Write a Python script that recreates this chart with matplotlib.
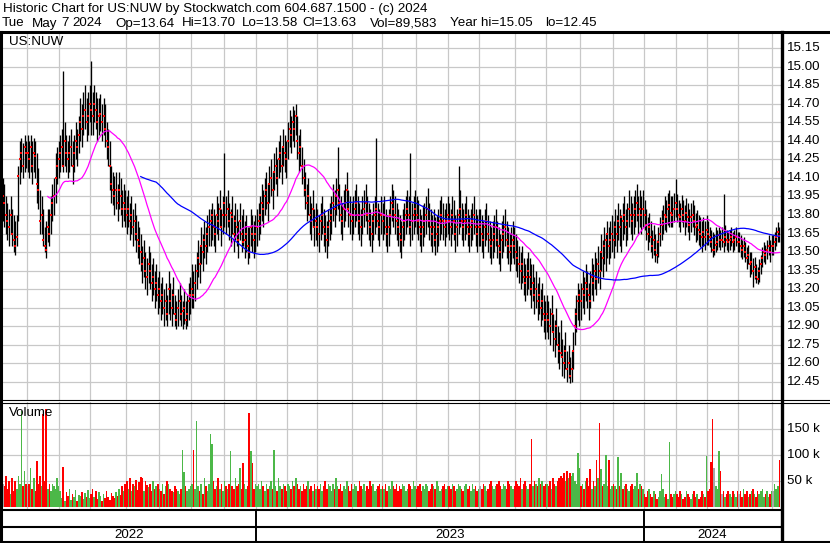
import numpy as np
import pandas as pd
import matplotlib
matplotlib.use('Agg')
import matplotlib.pyplot as plt
from matplotlib.lines import Line2D

plt.rcParams['font.family'] = ['Liberation Sans', 'DejaVu Sans']

# ---- data, one line per month ----
holidays = ['2022-05-30', '2022-06-20', '2022-07-04', '2022-09-05', '2022-11-24', '2022-12-26',
            '2023-01-02', '2023-01-16', '2023-02-20', '2023-04-07', '2023-05-29', '2023-06-19',
            '2023-07-04', '2023-09-04', '2023-11-23', '2023-12-25',
            '2024-01-01', '2024-01-15', '2024-02-19', '2024-03-29']

close = [
    13.95, 13.90, 13.80, 13.75, 13.70, 13.80, 13.65, 13.60, 13.55, 13.62, 14.12, 14.25, 14.30, 14.20, 14.35, 14.30,
    14.30, 14.25, 14.35, 14.20, 14.30, 14.28, 14.05, 14.00, 13.75, 13.80, 13.60, 13.55, 13.52, 13.70, 13.65, 13.80, 13.90, 13.95, 14.10, 14.20, 14.25,
    14.30, 14.35, 14.20, 14.40, 14.30, 14.25, 14.30, 14.35, 14.20, 14.30, 14.40, 14.35, 14.45, 14.55, 14.50, 14.60, 14.65, 14.55, 14.60, 14.70,
    14.65, 14.60, 14.70, 14.65, 14.55, 14.60, 14.62, 14.55, 14.60, 14.50, 14.40, 14.35, 14.20, 14.05, 14.00, 13.95, 14.00, 13.90, 14.00, 13.95, 13.85, 13.90, 13.85,
    13.80, 13.85, 13.75, 13.80, 13.70, 13.75, 13.65, 13.60, 13.55, 13.50, 13.40, 13.45, 13.35, 13.30, 13.40, 13.35, 13.25, 13.30, 13.20, 13.25, 13.15,
    13.20, 13.10, 13.15, 13.05, 13.10, 13.00, 13.20, 13.10, 13.05, 13.15, 13.00, 12.95, 13.05, 13.10, 13.00, 13.02, 13.05, 12.95, 13.00, 13.10, 13.15,
    13.20, 13.15, 13.25, 13.35, 13.45, 13.40, 13.55, 13.50, 13.60, 13.55, 13.65, 13.70, 13.75, 13.80, 13.70, 13.65, 13.80, 13.75, 13.85, 13.70, 13.80,
    13.90, 13.80, 13.85, 13.75, 13.82, 13.78, 13.65, 13.75, 13.70, 13.60, 13.75, 13.65, 13.58, 13.60, 13.65, 13.55, 13.50, 13.70, 13.65, 13.60, 13.65,
    13.70, 13.75, 13.80, 13.90, 13.85, 13.95, 14.00, 13.90, 14.05, 14.10, 14.00, 14.15, 14.20, 14.10, 14.25, 14.30, 14.20, 14.35, 14.30, 14.25,
    14.40, 14.50, 14.45, 14.55, 14.50, 14.60, 14.40, 14.30, 14.35, 14.20, 14.10, 14.00, 13.90, 13.95, 13.80, 13.75, 13.85, 13.70, 13.75,
    13.70, 13.65, 13.75, 13.80, 13.70, 13.65, 13.60, 13.70, 13.75, 13.80, 13.90, 13.85, 13.95, 14.00, 13.90, 13.80, 13.75, 13.85, 13.90, 14.00, 13.85, 13.80, 13.75,
    13.80, 13.85, 13.90, 13.80, 13.75, 13.70, 13.80, 13.85, 13.90, 13.80, 13.75, 13.70, 13.65, 13.75, 13.80, 13.85, 13.75, 13.70, 13.80,
    13.75, 13.80, 13.70, 13.65, 13.70, 13.80, 13.90, 13.85, 13.80, 13.75, 13.70, 13.65, 13.60, 13.70, 13.75, 13.80, 13.85, 13.80, 13.70, 13.75, 13.80, 13.85,
    13.80, 13.75, 13.70, 13.65, 13.70, 13.75, 13.80, 13.85, 13.75, 13.70, 13.65, 13.70, 13.60, 13.65, 13.70, 13.75, 13.80, 13.75, 13.70, 13.75, 13.80,
    13.75, 13.70, 13.80, 13.75, 13.65, 13.70, 13.80, 13.85, 13.75, 13.70, 13.75, 13.80, 13.70, 13.65, 13.70, 13.75, 13.80, 13.70, 13.65, 13.70,
    13.70, 13.65, 13.60, 13.70, 13.75, 13.65, 13.60, 13.55, 13.60, 13.65, 13.70, 13.60, 13.55, 13.50, 13.60, 13.65, 13.70, 13.60, 13.55, 13.50, 13.55, 13.60, 13.55,
    13.50, 13.45, 13.40, 13.35, 13.40, 13.30, 13.25, 13.30, 13.35, 13.30, 13.20, 13.25, 13.15, 13.20, 13.10, 13.15, 13.05, 13.10, 13.00, 12.95,
    13.00, 12.95, 12.90, 13.00, 12.85, 12.80, 12.90, 12.75, 12.70, 12.68, 12.65, 12.60, 12.70, 12.55, 12.60, 12.50, 12.55, 12.70, 12.90, 13.00, 13.10, 13.15,
    13.10, 13.20, 13.15, 13.25, 13.20, 13.15, 13.10, 13.30, 13.25, 13.35, 13.28, 13.40, 13.35, 13.50, 13.45, 13.55, 13.60, 13.65, 13.55, 13.60, 13.65,
    13.60, 13.70, 13.65, 13.75, 13.70, 13.78, 13.75, 13.80, 13.70, 13.75, 13.85, 13.80, 13.75, 13.80, 13.85, 13.90, 13.80, 13.85, 13.80, 13.85,
    13.80, 13.72, 13.65, 13.70, 13.62, 13.55, 13.60, 13.52, 13.48, 13.58, 13.65, 13.72, 13.75, 13.80, 13.78, 13.85, 13.88, 13.82, 13.80, 13.85, 13.90,
    13.85, 13.80, 13.78, 13.85, 13.80, 13.75, 13.82, 13.78, 13.72, 13.78, 13.80, 13.75, 13.70, 13.72, 13.68, 13.65, 13.62, 13.66, 13.62, 13.68,
    13.65, 13.62, 13.58, 13.52, 13.52, 13.56, 13.58, 13.64, 13.60, 13.60, 13.58, 13.62, 13.60, 13.58, 13.60, 13.62, 13.58, 13.60, 13.62, 13.58,
    13.58, 13.55, 13.52, 13.55, 13.50, 13.45, 13.48, 13.40, 13.42, 13.35, 13.38, 13.30, 13.28, 13.35, 13.40, 13.45, 13.50, 13.48, 13.52, 13.55, 13.50, 13.55,
    13.55, 13.58, 13.62, 13.66, 13.63,
]

high = [
    14.10, 14.05, 13.95, 13.90, 13.85, 13.95, 13.85, 13.80, 13.75, 13.80, 14.20, 14.40, 14.42, 14.38, 14.45, 14.40,
    14.45, 14.40, 14.45, 14.40, 14.42, 14.40, 14.30, 14.18, 14.00, 13.95, 13.85, 13.70, 13.75, 13.85, 13.85, 13.95, 14.05, 14.10, 14.30, 14.35, 14.40,
    14.45, 14.50, 14.97, 14.55, 14.45, 14.40, 14.45, 14.50, 14.40, 14.45, 14.55, 14.50, 14.60, 14.75, 14.70, 14.80, 14.85, 14.75, 14.80, 14.85,
    15.05, 14.80, 14.85, 14.80, 14.75, 14.75, 14.78, 14.70, 14.75, 14.70, 14.55, 14.50, 14.40, 14.20, 14.15, 14.12, 14.15, 14.05, 14.15, 14.10, 14.00, 14.05, 14.00,
    13.95, 14.00, 13.90, 13.95, 13.85, 13.90, 13.80, 13.75, 13.70, 13.65, 13.55, 13.60, 13.50, 13.45, 13.55, 13.50, 13.40, 13.45, 13.35, 13.40, 13.30,
    13.35, 13.25, 13.30, 13.20, 13.25, 13.15, 13.35, 13.25, 13.20, 13.30, 13.15, 13.10, 13.20, 13.25, 13.15, 13.10, 13.20, 13.10, 13.15, 13.25, 13.30,
    13.40, 13.35, 13.40, 13.50, 13.60, 13.55, 13.70, 13.65, 13.75, 13.70, 13.80, 13.85, 13.85, 13.90, 13.85, 13.80, 13.95, 13.90, 14.00, 13.85, 13.95,
    14.30, 13.95, 14.00, 13.90, 13.85, 13.95, 13.80, 13.90, 13.85, 13.75, 13.90, 13.80, 13.85, 13.75, 13.80, 13.70, 13.70, 13.85, 13.80, 13.75, 13.80,
    13.85, 13.90, 13.95, 14.05, 14.00, 14.10, 14.15, 14.05, 14.20, 14.25, 14.15, 14.30, 14.35, 14.25, 14.40, 14.45, 14.35, 14.50, 14.45, 14.40,
    14.55, 14.65, 14.60, 14.68, 14.65, 14.70, 14.60, 14.45, 14.50, 14.35, 14.25, 14.15, 14.05, 14.10, 13.95, 13.90, 14.00, 13.85, 13.90,
    13.85, 13.80, 13.90, 13.95, 13.85, 13.80, 13.75, 13.85, 13.90, 13.95, 14.05, 14.00, 14.10, 14.35, 14.05, 13.95, 13.90, 14.00, 14.05, 14.15, 14.00, 13.95, 13.90,
    13.95, 14.00, 14.05, 13.95, 13.90, 13.85, 13.95, 14.00, 14.05, 13.95, 13.90, 13.85, 13.80, 13.90, 13.95, 14.42, 13.90, 13.85, 13.95,
    13.90, 13.95, 13.85, 13.80, 13.85, 13.95, 14.05, 14.00, 13.95, 13.90, 13.85, 13.80, 13.75, 13.85, 13.90, 13.95, 14.00, 13.95, 14.30, 13.90, 13.95, 14.00,
    13.95, 13.92, 13.85, 13.80, 13.88, 13.90, 13.95, 14.02, 13.90, 13.85, 13.80, 13.85, 13.78, 13.80, 13.85, 13.92, 13.95, 13.90, 13.85, 13.90, 13.95,
    13.90, 13.85, 13.95, 13.92, 13.80, 13.85, 14.20, 14.00, 13.90, 13.85, 13.90, 13.95, 13.85, 13.80, 13.85, 13.90, 13.95, 13.85, 13.80, 13.85,
    13.85, 13.80, 13.75, 13.85, 13.90, 13.80, 13.75, 13.70, 13.75, 13.80, 13.85, 13.75, 13.70, 13.65, 13.75, 13.80, 13.85, 13.75, 13.70, 13.65, 13.70, 13.75, 13.70,
    13.65, 13.60, 13.55, 13.50, 13.55, 13.45, 13.40, 13.45, 13.50, 13.45, 13.40, 13.40, 13.30, 13.35, 13.25, 13.30, 13.20, 13.25, 13.15, 13.10,
    13.15, 13.10, 13.05, 13.15, 13.00, 12.95, 13.05, 12.90, 12.85, 12.95, 12.80, 12.75, 12.85, 12.70, 12.75, 12.65, 12.70, 12.85, 13.05, 13.15, 13.25, 13.20,
    13.25, 13.35, 13.30, 13.40, 13.35, 13.25, 13.35, 13.45, 13.40, 13.50, 13.45, 13.55, 13.50, 13.65, 13.60, 13.70, 13.65, 13.75, 13.70, 13.75, 13.80,
    13.75, 13.85, 13.80, 13.90, 13.85, 13.80, 13.90, 13.95, 13.85, 13.90, 14.00, 13.95, 13.90, 13.95, 14.00, 14.05, 13.95, 14.00, 13.95, 14.00,
    13.92, 13.85, 13.78, 13.82, 13.75, 13.68, 13.72, 13.65, 13.60, 13.70, 13.78, 13.84, 13.88, 13.95, 13.92, 13.98, 14.00, 13.95, 13.95, 13.98, 14.09,
    13.97, 13.92, 13.90, 13.96, 13.92, 13.88, 13.94, 13.90, 13.85, 13.90, 13.92, 13.88, 13.82, 13.84, 13.80, 13.78, 13.75, 13.78, 13.75, 13.80,
    13.75, 13.70, 13.68, 13.66, 13.65, 13.70, 13.68, 13.70, 13.68, 13.70, 13.97, 13.72, 13.68, 13.66, 13.68, 13.70, 13.66, 13.68, 13.70, 13.66,
    13.66, 13.64, 13.60, 13.62, 13.58, 13.54, 13.56, 13.50, 13.50, 13.45, 13.46, 13.40, 13.38, 13.44, 13.48, 13.54, 13.58, 13.56, 13.60, 13.64, 13.60, 13.64,
    13.64, 13.66, 13.70, 13.74, 13.70,
]

low = [
    13.75, 13.70, 13.65, 13.60, 13.55, 13.65, 13.55, 13.50, 13.48, 13.55, 13.75, 14.05, 14.15, 14.10, 14.15, 14.18,
    14.15, 14.10, 14.15, 14.05, 14.15, 14.10, 13.90, 13.85, 13.65, 13.65, 13.55, 13.50, 13.45, 13.58, 13.55, 13.65, 13.75, 13.80, 13.90, 14.05, 14.10,
    14.15, 14.20, 14.15, 14.20, 14.15, 14.10, 14.15, 14.20, 14.05, 14.15, 14.25, 14.20, 14.30, 14.40, 14.35, 14.45, 14.50, 14.40, 14.45, 14.55,
    14.45, 14.45, 14.55, 14.50, 14.40, 14.45, 14.48, 14.40, 14.45, 14.35, 14.25, 14.20, 14.00, 13.90, 13.88, 13.80, 13.85, 13.75, 13.85, 13.80, 13.70, 13.75, 13.70,
    13.65, 13.70, 13.60, 13.65, 13.55, 13.60, 13.50, 13.45, 13.40, 13.35, 13.25, 13.30, 13.20, 13.15, 13.25, 13.20, 13.10, 13.15, 13.05, 13.10, 13.00,
    13.05, 12.95, 13.00, 12.90, 12.95, 12.90, 13.00, 12.95, 12.90, 13.00, 12.90, 12.88, 12.90, 12.95, 12.90, 12.88, 12.92, 12.88, 12.90, 12.95, 13.00,
    13.05, 13.05, 13.10, 13.20, 13.30, 13.25, 13.40, 13.35, 13.45, 13.40, 13.50, 13.55, 13.55, 13.60, 13.55, 13.50, 13.65, 13.60, 13.70, 13.55, 13.65,
    13.70, 13.65, 13.70, 13.60, 13.55, 13.65, 13.50, 13.60, 13.55, 13.45, 13.60, 13.50, 13.55, 13.45, 13.50, 13.40, 13.45, 13.55, 13.50, 13.45, 13.50,
    13.55, 13.60, 13.65, 13.75, 13.70, 13.80, 13.85, 13.75, 13.90, 13.95, 13.85, 14.00, 14.05, 13.95, 14.10, 14.15, 14.05, 14.20, 14.15, 14.10,
    14.25, 14.35, 14.30, 14.40, 14.35, 14.45, 14.25, 14.15, 14.20, 14.05, 13.95, 13.85, 13.75, 13.80, 13.65, 13.60, 13.70, 13.55, 13.60,
    13.55, 13.50, 13.60, 13.65, 13.55, 13.50, 13.45, 13.55, 13.60, 13.65, 13.75, 13.70, 13.80, 13.85, 13.75, 13.65, 13.60, 13.70, 13.75, 13.85, 13.70, 13.65, 13.60,
    13.65, 13.70, 13.75, 13.65, 13.60, 13.55, 13.65, 13.70, 13.75, 13.65, 13.60, 13.55, 13.50, 13.60, 13.65, 13.70, 13.60, 13.55, 13.65,
    13.60, 13.65, 13.55, 13.50, 13.55, 13.65, 13.75, 13.70, 13.65, 13.60, 13.55, 13.50, 13.45, 13.55, 13.60, 13.65, 13.70, 13.65, 13.55, 13.60, 13.65, 13.70,
    13.65, 13.60, 13.55, 13.50, 13.55, 13.62, 13.65, 13.70, 13.60, 13.55, 13.50, 13.55, 13.48, 13.50, 13.55, 13.60, 13.65, 13.60, 13.55, 13.62, 13.65,
    13.60, 13.55, 13.65, 13.60, 13.50, 13.55, 13.65, 13.70, 13.60, 13.55, 13.60, 13.65, 13.55, 13.50, 13.55, 13.60, 13.65, 13.55, 13.50, 13.55,
    13.55, 13.50, 13.45, 13.55, 13.60, 13.50, 13.45, 13.40, 13.45, 13.50, 13.55, 13.45, 13.40, 13.35, 13.45, 13.50, 13.55, 13.45, 13.40, 13.35, 13.40, 13.45, 13.40,
    13.35, 13.30, 13.25, 13.20, 13.25, 13.15, 13.10, 13.15, 13.20, 13.15, 13.05, 13.10, 13.00, 13.05, 12.95, 13.00, 12.90, 12.95, 12.85, 12.80,
    12.85, 12.80, 12.75, 12.85, 12.70, 12.65, 12.75, 12.60, 12.55, 12.65, 12.50, 12.48, 12.55, 12.45, 12.48, 12.44, 12.45, 12.55, 12.75, 12.85, 12.95, 12.90,
    12.95, 13.05, 13.00, 13.10, 13.05, 12.95, 13.05, 13.15, 13.10, 13.20, 13.15, 13.25, 13.20, 13.35, 13.30, 13.40, 13.35, 13.45, 13.40, 13.45, 13.50,
    13.45, 13.55, 13.50, 13.60, 13.55, 13.50, 13.60, 13.65, 13.55, 13.60, 13.70, 13.65, 13.60, 13.65, 13.70, 13.75, 13.65, 13.70, 13.65, 13.70,
    13.68, 13.60, 13.52, 13.58, 13.50, 13.45, 13.48, 13.42, 13.41, 13.46, 13.55, 13.60, 13.65, 13.68, 13.66, 13.72, 13.70, 13.70, 13.70, 13.74, 13.78,
    13.74, 13.70, 13.66, 13.74, 13.70, 13.64, 13.70, 13.66, 13.60, 13.66, 13.70, 13.64, 13.58, 13.60, 13.56, 13.54, 13.50, 13.55, 13.52, 13.56,
    13.56, 13.54, 13.50, 13.46, 13.48, 13.50, 13.52, 13.54, 13.52, 13.54, 13.50, 13.55, 13.52, 13.50, 13.52, 13.55, 13.50, 13.52, 13.55, 13.50,
    13.50, 13.46, 13.44, 13.46, 13.42, 13.36, 13.40, 13.30, 13.32, 13.22, 13.28, 13.25, 13.24, 13.26, 13.32, 13.38, 13.42, 13.40, 13.44, 13.48, 13.42, 13.48,
    13.48, 13.52, 13.55, 13.58, 13.58,
]

volume_k = [
    45, 40, 60, 35, 50, 25, 55, 30, 50, 35, 60, 45, 185, 40, 70, 45,
    40, 45, 75, 35, 55, 30, 88, 45, 60, 40, 179, 50, 188, 35, 45, 30, 45, 40, 35, 55, 40,
    30, 18, 77, 12, 28, 22, 35, 14, 26, 19, 33, 11, 24, 21, 29, 16, 27, 20, 32, 17,
    25, 35, 20, 30, 15, 28, 22, 12, 26, 18, 31, 20, 14, 27, 22, 17, 29, 21, 35, 24, 40, 30, 45,
    50, 35, 55, 30, 45, 40, 52, 33, 48, 58, 55, 30, 50, 42, 38, 45, 30, 50, 35, 40, 45,
    35, 30, 45, 25, 40, 50, 45, 35, 30, 28, 40, 35, 30, 25, 35, 110, 67, 40, 30, 35, 40,
    45, 110, 35, 165, 40, 30, 45, 25, 55, 40, 30, 45, 140, 122, 50, 35, 40, 55, 35, 45, 30,
    50, 40, 35, 45, 107, 40, 35, 55, 40, 45, 75, 35, 85, 45, 35, 40, 180, 108, 84, 35, 45,
    40, 45, 35, 50, 40, 30, 45, 35, 40, 50, 35, 110, 40, 30, 55, 40, 35, 45, 40, 30,
    45, 40, 35, 50, 40, 55, 45, 35, 40, 30, 45, 35, 40, 50, 35, 40, 30, 45, 35,
    40, 35, 45, 30, 40, 50, 35, 45, 40, 30, 45, 35, 55, 40, 35, 45, 30, 40, 35, 50, 40, 30, 45,
    35, 45, 40, 30, 50, 40, 35, 45, 30, 40, 35, 50, 40, 45, 30, 35, 40, 45, 35,
    40, 35, 45, 30, 40, 35, 50, 40, 35, 45, 30, 40, 35, 45, 40, 30, 35, 45, 40, 35, 50, 40,
    35, 40, 45, 30, 40, 35, 45, 40, 30, 35, 45, 40, 35, 50, 40, 30, 35, 40, 45, 35, 40,
    40, 35, 45, 40, 30, 35, 45, 40, 35, 30, 40, 45, 35, 40, 30, 45, 35, 40, 30, 35,
    40, 35, 45, 40, 30, 35, 45, 50, 40, 35, 40, 45, 50, 40, 35, 45, 40, 35, 50, 45, 40, 35, 40,
    50, 45, 40, 55, 35, 45, 50, 40, 35, 45, 130, 40, 50, 45, 40, 55, 45, 50, 40, 45,
    45, 40, 50, 35, 55, 45, 40, 50, 55, 60, 55, 65, 50, 70, 55, 65, 60, 65, 50, 45, 104, 75,
    40, 45, 35, 50, 55, 40, 73, 35, 50, 40, 90, 55, 162, 73, 40, 45, 101, 40, 90, 35, 40,
    45, 40, 35, 96, 40, 65, 35, 40, 45, 35, 30, 40, 45, 35, 40, 65, 35, 45, 40, 35,
    25, 20, 30, 35, 25, 20, 30, 25, 15, 20, 30, 64, 35, 20, 25, 15, 125, 25, 20, 25, 30,
    25, 20, 30, 25, 15, 20, 30, 25, 20, 15, 25, 30, 20, 25, 15, 20, 30, 25, 20, 98,
    30, 35, 86, 169, 76, 40, 35, 108, 70, 25, 30, 20, 25, 30, 25, 20, 30, 25, 20, 30,
    25, 30, 20, 35, 25, 30, 20, 25, 30, 35, 25, 20, 30, 25, 30, 35, 20, 25, 30, 20, 25, 30,
    30, 45, 35, 40, 89.6,
]

price_ticks = [15.15, 15.00, 14.85, 14.70, 14.55, 14.40, 14.25, 14.10, 13.95, 13.80, 13.65,
               13.50, 13.35, 13.20, 13.05, 12.90, 12.75, 12.60, 12.45]
vol_ticks = [50, 100, 150]
vol_tick_labels = ['50 k', '100 k', '150 k']
title1 = 'Historic Chart for US:NUW by Stockwatch.com 604.687.1500 - (c) 2024'
title2 = ['Tue', 'May', '7', '2024', 'Op=13.64', 'Hi=13.70', 'Lo=13.58', 'Cl=13.63',
          'Vol=89,583', 'Year hi=15.05', 'lo=12.45']
title2_x = [2, 32, 61, 72, 115, 182, 242, 302, 370, 450, 545]

# ---- derived series ----
dates = pd.bdate_range('2022-05-09', '2024-05-07')
dates = dates[~dates.isin(pd.to_datetime(holidays))]
close = np.array(close)
high = np.array(high)
low = np.array(low)
volume_k = np.array(volume_k, dtype=float)
x = np.arange(len(close))

ma_short = pd.Series(close).rolling(30).mean()
ma_long = pd.Series(close).rolling(90).mean()

chg = np.diff(close, prepend=close[0])
vcol = np.where(chg > 0.001, '#4cb848', np.where(chg < -0.001, '#ff0000', '#a8a8a8'))

month_start = [i - 0.5 for i in range(1, len(dates)) if dates[i].month != dates[i - 1].month]
year_start = [i - 0.5 for i in range(1, len(dates)) if dates[i].year != dates[i - 1].year]

# ---- figure, laid out in pixels ----
W, H = 830, 543
fig = plt.figure(figsize=(W / 100, H / 100), dpi=100)
FS = 9.6


def box(l, t, r, b):
    return [l / W, 1 - b / H, (r - l) / W, (b - t) / H]


xmin = (2 - 2.8) / 1.55
xmax = (781 - 2.8) / 1.55
grid = '#c8c8c8'

ax = fig.add_axes(box(2, 33, 781, 400))
ax.set_xlim(xmin, xmax)
ax.set_ylim(12.302, 15.274)
for p in price_ticks:
    ax.axhline(p, color=grid, lw=0.9, zorder=0)
for m in month_start:
    ax.axvline(m, color=grid, lw=0.9, zorder=0)
ax.vlines(x, low, high, color='black', lw=0.95, zorder=2)
ax.plot(x, close, 's', color='red', ms=1.5, mew=0, zorder=3)
ax.plot(x, ma_short, color='#ff00ff', lw=0.9, zorder=4)
ax.plot(x, ma_long, color='#0000ff', lw=0.9, zorder=4)
fig.text(9 / W, 1 - 42 / H, 'US:NUW', fontsize=FS, va='center')
for p in price_ticks:
    ax.text(1.0 + 6 / 779, p, f'{p:.2f}', transform=ax.get_yaxis_transform(), fontsize=FS,
            va='center', ha='left')

axv = fig.add_axes(box(2, 402, 781, 509))
axv.set_xlim(xmin, xmax)
axv.set_ylim(-3.8, 202)
for v in vol_ticks:
    axv.axhline(v, color=grid, lw=0.9, zorder=0)
for m in month_start:
    axv.axvline(m, color=grid, lw=0.9, zorder=0)
axv.bar(x, volume_k, width=1.0, bottom=0, color=vcol, lw=0, antialiased=False, zorder=2)
fig.text(9 / W, 1 - 413 / H, 'Volume', fontsize=FS, va='center')
for v, lab in zip(vol_ticks, vol_tick_labels):
    axv.text(1.0 + 6 / 779, v, lab, transform=axv.get_yaxis_transform(), fontsize=FS,
             va='center', ha='left')

for a in (ax, axv):
    a.set_xticks([])
    a.set_yticks([])
    for s in a.spines.values():
        s.set_visible(False)

# year band under the volume panel
axy = fig.add_axes(box(2, 509, 781, 543))
axy.set_xlim(xmin, xmax)
axy.set_ylim(0, 1)
axy.axis('off')
edges = [xmin] + year_start + [xmax]
for i, yr in enumerate(['2022', '2023', '2024']):
    axy.text((edges[i] + edges[i + 1]) / 2, 0.25, yr, fontsize=FS, ha='center', va='center')
for ys in year_start:
    axy.plot([ys, ys], [0, 1], color='black', lw=1.4)

# title lines
fig.text(3 / W, 1 - 8.7 / H, title1, fontsize=FS, va='center', ha='left')
for s, xp in zip(title2, title2_x):
    fig.text(xp / W, 1 - 23.5 / H, s, fontsize=FS, va='center', ha='left')


# frame lines in pixel coordinates
def hline(y, x0, x1, lw):
    fig.add_artist(Line2D([x0 / W, x1 / W], [1 - y / H, 1 - y / H], color='black', lw=lw))


def vline(xp, y0, y1, lw):
    fig.add_artist(Line2D([xp / W, xp / W], [1 - y0 / H, 1 - y1 / H], color='black', lw=lw))


hline(32, 0, W, 2.2)
hline(400, 0, W, 0.8)
hline(402.5, 0, W, 0.8)
hline(509.5, 0, 781, 1.5)
hline(526.5, 0, 781, 1.5)
hline(542, 0, W, 1.5)
vline(1, 32, H, 2.2)
vline(781.5, 32, H, 2.4)

fig.savefig('out.png', dpi=100)
